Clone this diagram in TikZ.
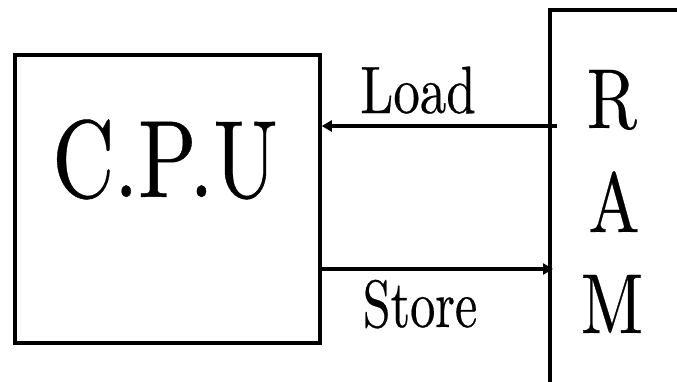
\documentclass[tikz,border=0pt]{standalone}
\usepackage{fontspec}
\IfFontExistsTF{lmroman10-regular.otf}{\newfontfamily\txtfont{lmroman10-regular.otf}[FakeBold=0.4]}{\newfontfamily\txtfont{Latin Modern Roman}[FakeBold=0.4]}
\usetikzlibrary{arrows.meta}
\begin{document}
\begin{tikzpicture}[x=1pt,y=-1pt,
  box/.style={draw,line width=3.5pt,rectangle,inner sep=0pt},
  conn/.style={line width=3.2pt,-{Triangle[length=10pt,width=11pt]}},
  bigtxt/.style={inner sep=0pt,anchor=base,font=\txtfont\fontsize{110}{110}\selectfont},
  lbl/.style={inner sep=0pt,anchor=base,font=\txtfont\fontsize{67}{67}\selectfont},
  ramtxt/.style={inner sep=0pt,anchor=base,font=\txtfont\fontsize{85}{85}\selectfont}]
\useasboundingbox (0,0) rectangle (677,381);
% CPU box
\node[box,minimum width=305pt,minimum height=288pt] (cpu) at (167.5,199) {};
\node[bigtxt] (cputxt) at (165,197) {\scalebox{0.78}[1]{C.P.U}};
% RAM (open at right and bottom)
\node[inner sep=0pt,minimum width=140pt,minimum height=380pt] (ram) at (620,200) {};
\draw[line width=3.5pt] (ram.south west) -- (ram.north west) -- (ram.north east);
\node[ramtxt] (r) at (612,128) {\scalebox{0.8}[1]{R}};
\node[ramtxt] (a) at (614,232) {\scalebox{0.8}[1]{A}};
\node[ramtxt] (m) at (612,333) {\scalebox{0.8}[1]{M}};
% connectors
\coordinate (loadstart) at (557,126);
\coordinate (storeend) at (553,269);
\draw[conn] (loadstart) -- (cpu.east |- loadstart);
\draw[conn] (cpu.east |- storeend) -- (storeend);
\node[lbl] (load) at (418,113) {\scalebox{0.79}[1]{Load}};
\node[lbl] (store) at (420,327) {\scalebox{0.75}[1]{Store}};
\end{tikzpicture}
\end{document}
